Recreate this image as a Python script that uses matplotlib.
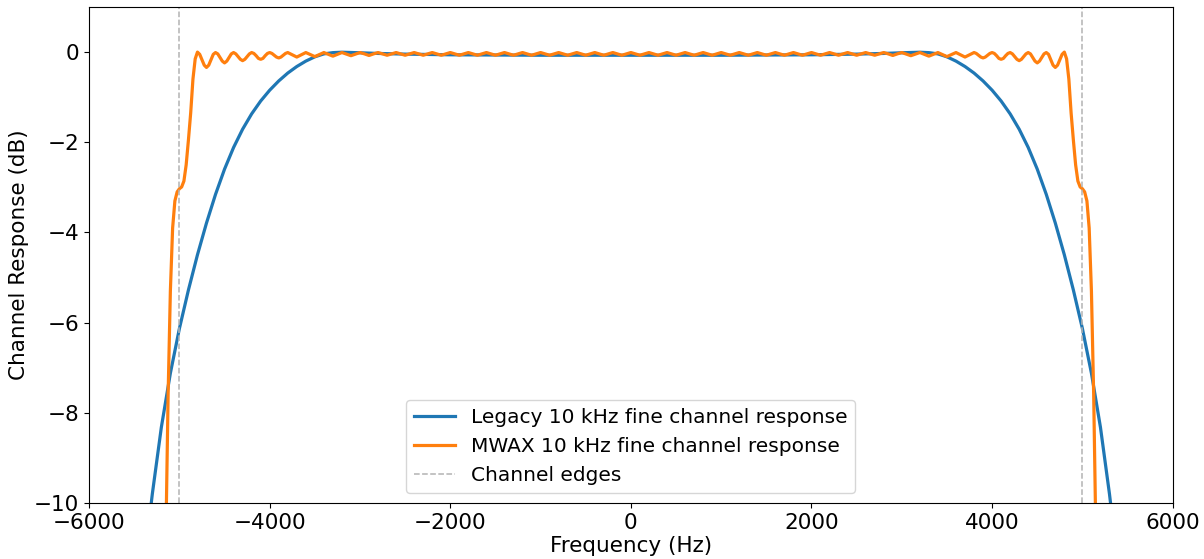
import numpy as np
import matplotlib
matplotlib.use("Agg")
import matplotlib.pyplot as plt

# legacy fine channel response, positive half (response is symmetric)
legacy_freq = [0, 500, 1000, 1500, 2000, 2500, 2800, 3000, 3200, 3300, 3400,
               3500, 3600, 3700, 3800, 3900, 4000, 4100, 4200, 4300, 4400,
               4500, 4600, 4700, 4800, 4900, 5000, 5100, 5200, 5300, 5400]
legacy_db = [-0.07, -0.07, -0.07, -0.065, -0.06, -0.045, -0.03, -0.015, -0.003,
             -0.012, -0.04, -0.105, -0.2, -0.32, -0.465, -0.64, -0.845, -1.085,
             -1.37, -1.71, -2.115, -2.595, -3.155, -3.79, -4.495, -5.275, -6.13,
             -7.12, -8.32, -9.8, -11.5]

# MWAX fine channel response, positive half
# 0..3800 Hz every 50 Hz
mwax_mid_db = [
    -0.01, -0.04, -0.07, -0.04, -0.01, -0.04, -0.07, -0.04,
    -0.01, -0.04, -0.07, -0.04, -0.01, -0.04, -0.07, -0.04,
    -0.01, -0.04, -0.07, -0.04, -0.01, -0.04, -0.07, -0.04,
    -0.01, -0.04, -0.07, -0.04, -0.01, -0.04, -0.07, -0.04,
    -0.01, -0.04, -0.07, -0.04, -0.01, -0.04, -0.07, -0.04,
    -0.01, -0.04, -0.07, -0.04, -0.01, -0.04, -0.07, -0.04,
    -0.01, -0.04, -0.07, -0.04, -0.01, -0.04, -0.07, -0.04,
    -0.01, -0.04, -0.075, -0.04,
    -0.01, -0.045, -0.08, -0.045, -0.01, -0.05, -0.09, -0.05,
    -0.01, -0.055, -0.10, -0.055, -0.01, -0.06, -0.11, -0.06,
    -0.01,
]
# 3825..5175 Hz every 25 Hz
mwax_edge_db = [
    -0.03, -0.07, -0.11, -0.13, -0.11, -0.07, -0.03, -0.01,
    -0.03, -0.08, -0.14, -0.16, -0.14, -0.08, -0.03, -0.01,
    -0.04, -0.10, -0.16, -0.19, -0.16, -0.10, -0.04, -0.01,
    -0.04, -0.12, -0.20, -0.24, -0.20, -0.12, -0.04, -0.01,
    -0.05, -0.17, -0.29, -0.34, -0.29, -0.17, -0.05, 0.0,
    -0.15, -0.6, -1.35, -1.95, -2.5, -2.86, -2.99, -3.03,
    -3.1, -3.3, -3.9, -5.3, -7.6, -10.8, -14.0,
]
mwax_freq = list(np.arange(0, 3801, 50)) + list(np.arange(3825, 5176, 25))
mwax_db = mwax_mid_db + mwax_edge_db

channel_edges = [-5000, 5000]


def mirror(freq, vals):
    freq = np.asarray(freq, dtype=float)
    vals = np.asarray(vals, dtype=float)
    f = np.concatenate([-freq[::-1][:-1], freq])
    v = np.concatenate([vals[::-1][:-1], vals])
    return f, v


lf, ly = mirror(legacy_freq, legacy_db)
mf, my = mirror(mwax_freq, mwax_db)

fig = plt.figure(figsize=(12.04, 5.59), dpi=100)
ax = fig.add_axes([0.074, 0.1, 0.9, 0.8875])

ax.plot(lf, ly, color="#1f77b4", lw=2.3, label="Legacy 10 kHz fine channel response")
ax.plot(mf, my, color="#ff7f0e", lw=2.3, label="MWAX 10 kHz fine channel response")
for i, e in enumerate(channel_edges):
    ax.axvline(e, color="0.7", ls="--", lw=1.1,
               label="Channel edges" if i == 0 else None)

ax.set_xlim(-6000, 6000)
ax.set_ylim(-10, 1)
ax.set_yticks([0, -2, -4, -6, -8, -10])
ax.tick_params(labelsize=15.5)
ax.set_xlabel("Frequency (Hz)", fontsize=15.5, labelpad=2)
ax.set_ylabel("Channel Response (dB)", fontsize=15.5)
ax.legend(loc="lower center", fontsize=14.5)

fig.savefig("out.png", dpi=100)
